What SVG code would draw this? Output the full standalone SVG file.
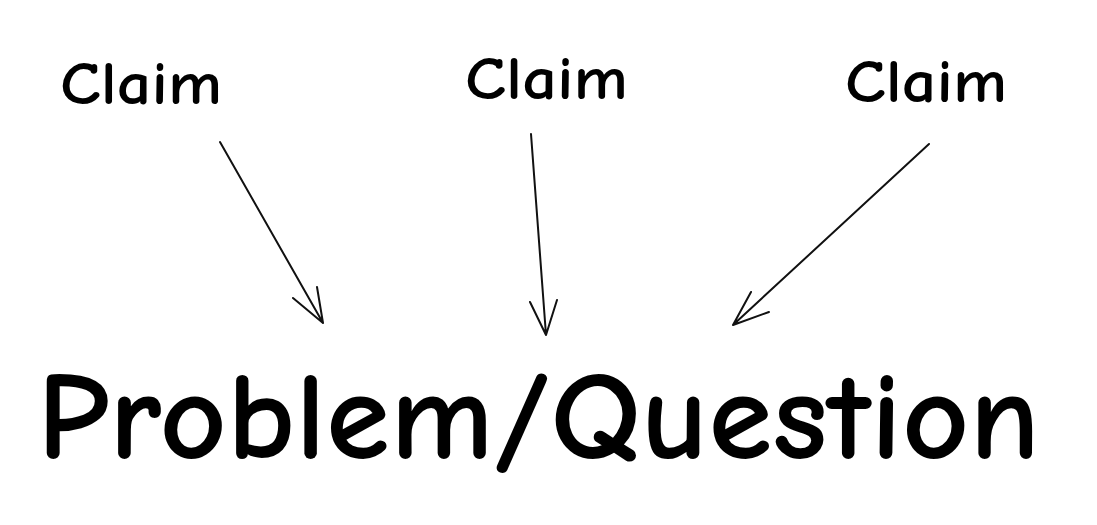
<svg xmlns="http://www.w3.org/2000/svg" width="1097" height="525" viewBox="0 0 1097 525">
<style>
.lbl{font-family:"Comic Neue","Liberation Sans","DejaVu Sans",sans-serif;fill:#000;font-weight:bold;}
.claim{font-size:60px;}
.big{font-size:124px;}
.arr{fill:none;stroke:#111;stroke-width:2;stroke-linecap:round;stroke-linejoin:round;}
</style>
<rect width="1097" height="525" fill="#fff"/>
<g id="claim1"><text class="lbl claim" x="60" y="104" textLength="162" lengthAdjust="spacingAndGlyphs">Claim</text></g>
<g id="claim2"><text class="lbl claim" x="465" y="99" textLength="163" lengthAdjust="spacingAndGlyphs">Claim</text></g>
<g id="claim3"><text class="lbl claim" x="845" y="102" textLength="162" lengthAdjust="spacingAndGlyphs">Claim</text></g>
<g id="problem"><text class="lbl big" x="37" y="458" textLength="1003" lengthAdjust="spacingAndGlyphs">Problem/Question</text></g>
<g id="connectors">
<path class="arr" d="M220 142 L323 323 M293 298 L323 323 L317 287"/>
<path class="arr" d="M531 134 L546 335 M530 302 L546 335 L557 300"/>
<path class="arr" d="M929 144 L733 325 M751 292 L733 325 L769 312"/>
</g>
</svg>
